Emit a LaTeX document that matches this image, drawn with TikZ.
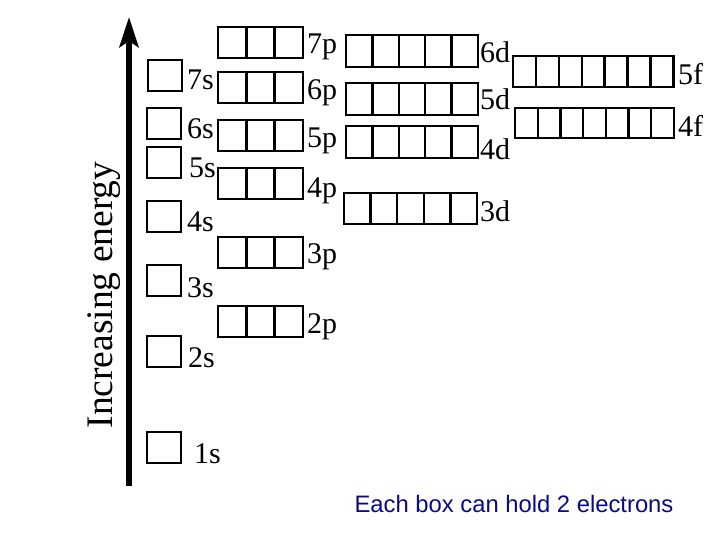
\documentclass[tikz,border=0pt]{standalone}
\usepackage{fontspec}
\setmainfont{Liberation Serif}
\newfontfamily\notefont{Liberation Sans}
\usepackage{tikz}
\usetikzlibrary{arrows.meta,positioning}
\definecolor{notenavy}{RGB}{10,10,130}

\begin{document}
\begin{tikzpicture}[
    x=1pt, y=-1pt,
    cell/.style={rectangle, draw, line width=2.4pt, inner sep=0pt, outer sep=0pt, anchor=north west},
    orblbl/.style={anchor=base west, inner sep=0pt, font=\fontsize{30}{34}\selectfont},
    axislbl/.style={anchor=base, inner sep=0pt, rotate=90, font=\fontsize{37.5}{42}\selectfont},
    note/.style={anchor=base, inner sep=0pt, text=notenavy, font=\notefont\fontsize{23.8}{26}\selectfont},
    energy/.style={line width=6pt, -{Stealth[length=30pt, width=19pt, inset=6pt]}},
]
    \useasboundingbox (0,0) rectangle (720,540);

    % Energy axis
    \coordinate (ebot) at (129,486);
    \coordinate (etop) at (129,17);
    \draw[energy] (ebot) -- (etop);
    \node[axislbl] (elbl) at (112,295) {Increasing energy};

    % Orbital boxes: name/left/top/cells/cell width/height
    \foreach \nm/\x/\y/\n/\w/\h in {
        1s/147/432/1/34/31, 2s/147/336/1/34/31, 3s/147/265/1/34/31,
        4s/147/201/1/34/31, 5s/147/147/1/34/31, 6s/147/108/1/34/31,
        7s/148/60/1/34/31,
        2p/218/306/3/28.33/31, 3p/218/237/3/28.33/31, 4p/218/168/3/28.33/31,
        5p/218/120/3/28.33/31, 6p/218/72/3/28.33/31, 7p/218/27/3/28.33/31,
        3d/344/193/5/26.6/31, 4d/346/126/5/26.4/32, 5d/346/83/5/26.4/32,
        6d/346/35/5/26.4/32,
        4f/515/108/7/22.7/30, 5f/513/56/7/22.9/31} {
        \foreach \i in {1,...,\n}
            \node[cell, minimum width=\w*1pt, minimum height=\h*1pt] (\nm-\i) at ({\x+(\i-1)*\w},\y) {};
    }

    % Orbital labels
    \foreach \nm/\x/\y in {
        1s/194/463, 2s/188/367, 3s/187/297, 4s/187/232, 5s/189/178,
        6s/187/139, 7s/187/90,
        2p/307/333, 3p/307/263, 4p/307/197, 5p/307/148, 6p/307/100,
        7p/307/54,
        3d/480/222, 4d/480/160, 5d/480/110, 6d/480/63,
        4f/678/137, 5f/678/85} {
        \node[orblbl] (lbl\nm) at (\x,\y) {\nm};
    }

    % Note
    \node[note] (hold) at (514,512) {Each box can hold 2 electrons};
\end{tikzpicture}
\end{document}
